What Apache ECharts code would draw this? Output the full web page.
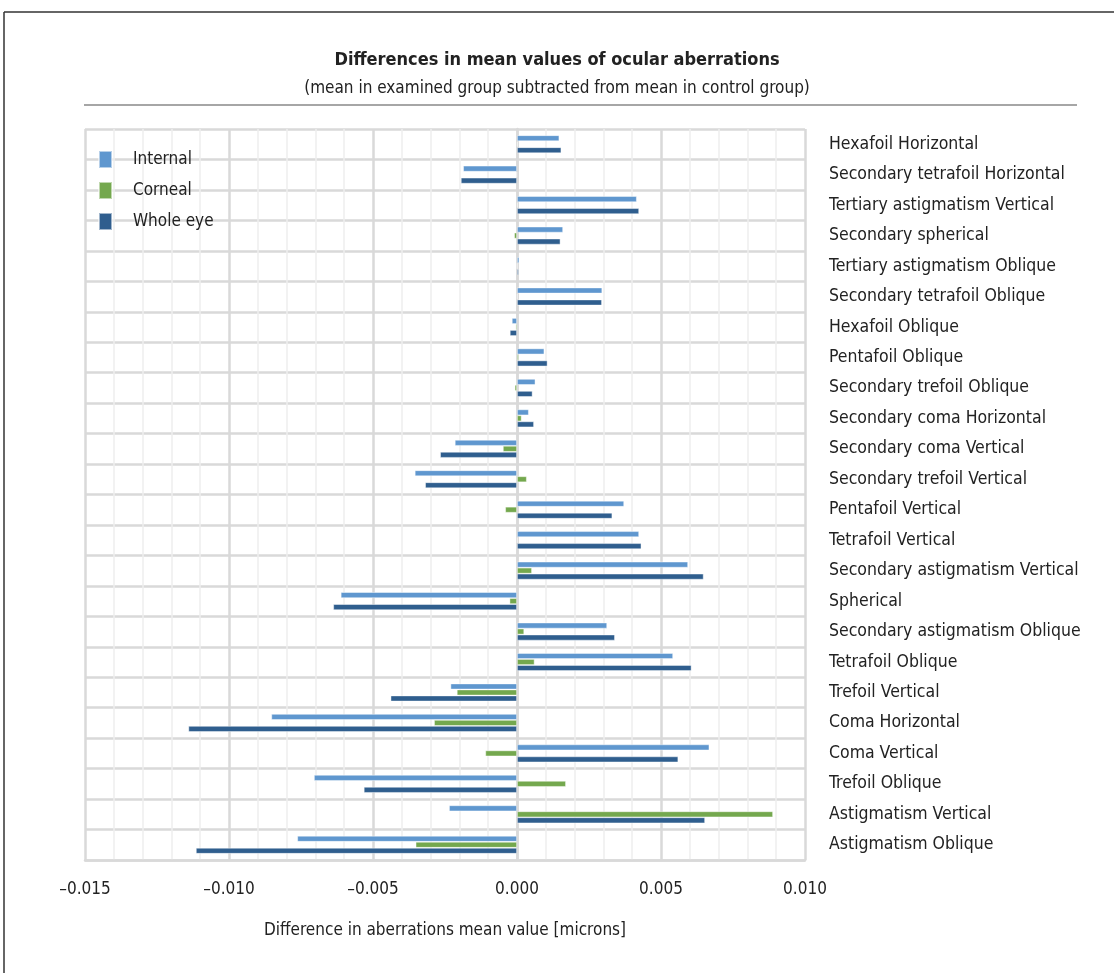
<!DOCTYPE html>
<html>
<head>
<meta charset="utf-8">
<script src="https://cdn.jsdelivr.net/npm/echarts@6/dist/echarts.min.js"></script>
<style>
html,body{margin:0;padding:0;background:#fff;}
#c{width:1114px;height:973px;}
</style>
</head>
<body>
<div id="c"></div>
<script>
const categories = [
  "Hexafoil Horizontal",
  "Secondary tetrafoil Horizontal",
  "Tertiary astigmatism Vertical",
  "Secondary spherical",
  "Tertiary astigmatism Oblique",
  "Secondary tetrafoil Oblique",
  "Hexafoil Oblique",
  "Pentafoil Oblique",
  "Secondary trefoil Oblique",
  "Secondary coma Horizontal",
  "Secondary coma Vertical",
  "Secondary trefoil Vertical",
  "Pentafoil Vertical",
  "Tetrafoil Vertical",
  "Secondary astigmatism Vertical",
  "Spherical",
  "Secondary astigmatism Oblique",
  "Tetrafoil Oblique",
  "Trefoil Vertical",
  "Coma Horizontal",
  "Coma Vertical",
  "Trefoil Oblique",
  "Astigmatism Vertical",
  "Astigmatism Oblique"
];
const internal = [0.00147,-0.00187,0.00416,0.00160,0.00008,0.00296,-0.00018,0.00095,0.00064,0.00041,-0.00216,-0.00355,0.00372,0.00424,0.00594,-0.00612,0.00313,0.00542,-0.00231,-0.00853,0.00668,-0.00705,-0.00236,-0.00763];
const corneal = [0.00003,-0.00002,0.00003,-0.00010,0.00001,0.00002,-0.00005,0.00006,-0.00008,0.00016,-0.00049,0.00034,-0.00041,0.00002,0.00052,-0.00026,0.00025,0.00061,-0.00209,-0.00288,-0.00110,0.00170,0.00889,-0.00352];
const wholeEye = [0.00154,-0.00195,0.00424,0.00151,0.00006,0.00295,-0.00025,0.00106,0.00054,0.00059,-0.00267,-0.00319,0.00331,0.00432,0.00648,-0.00638,0.00340,0.00606,-0.00439,-0.01141,0.00560,-0.00532,0.00653,-0.01115];
const xTicks = [-0.015,-0.010,-0.005,0.000,0.005,0.010];
const seriesNames = ["Internal","Corneal","Whole eye"];

const FONT = "'Liberation Sans Narrow','DejaVu Sans Condensed','Liberation Sans',sans-serif";
const colors = ["#5f97cf","#74a84e","#2f5e8e"];
const chart = echarts.init(document.getElementById('c'));
const fmt = v => (v < 0 ? "\u2013" : "") + Math.abs(v).toFixed(3);
const mk = (name, data, i) => ({
  name: name, type: 'bar', data: data,
  barWidth: 6, barGap: '0%',
  itemStyle: {color: colors[i], borderColor: 'rgba(255,255,255,0.55)', borderWidth: 0.8},
  emphasis: {disabled: true}
});
chart.setOption({
  animation: false,
  textStyle: {fontFamily: FONT},
  title: {
    text: "Differences in mean values of ocular aberrations",
    subtext: "(mean in examined group subtracted from mean in control group)",
    left: 'center', top: 46, itemGap: 11,
    textStyle: {fontFamily: FONT, fontSize: 18, fontWeight: 'bold', color: '#222'},
    subtextStyle: {fontFamily: FONT, fontSize: 17, color: '#222'}
  },
  legend: {
    orient: 'vertical', left: 98, top: 150, padding: 0, itemWidth: 13, itemHeight: 17, itemGap: 12,
    icon: 'rect',
    data: seriesNames,
    textStyle: {fontFamily: FONT, fontSize: 17, lineHeight: 17, color: '#222', padding: [0,0,0,16]}
  },
  grid: {left: 85, right: 309, top: 129, bottom: 113, containLabel: false},
  xAxis: {
    type: 'value', min: -0.015, max: 0.010, interval: 0.005,
    name: "Difference in aberrations mean value [microns]",
    nameLocation: 'middle', nameGap: 62,
    nameTextStyle: {fontFamily: FONT, fontSize: 17, color: '#222'},
    axisLine: {show: true, lineStyle: {color: '#d9d9d9', width: 2.5}},
    axisTick: {show: false},
    axisLabel: {fontFamily: FONT, fontSize: 17, color: '#222', margin: 21,
      formatter: v => { const t = xTicks.find(x => Math.abs(x - v) < 1e-9); return t === undefined ? '' : fmt(t); }},
    splitLine: {show: true, lineStyle: {color: '#d9d9d9', width: 2.5}},
    minorTick: {show: false, splitNumber: 5},
    minorSplitLine: {show: true, lineStyle: {color: '#eeeeee', width: 1.5}}
  },
  yAxis: {
    type: 'category', data: categories, inverse: true, position: 'right',
    axisLine: {show: true, lineStyle: {color: '#d9d9d9', width: 2.5}},
    axisTick: {show: false},
    axisLabel: {fontFamily: FONT, fontSize: 17.5, color: '#222', margin: 24, align: 'left'},
    splitLine: {show: true, lineStyle: {color: '#d9d9d9', width: 2.5}}
  },
  graphic: [
    {type: 'line', shape: {x1: 4, y1: 12, x2: 1114, y2: 12}, style: {stroke: '#333', lineWidth: 1.5}},
    {type: 'line', shape: {x1: 4, y1: 12, x2: 4, y2: 973}, style: {stroke: '#333', lineWidth: 1.5}},
    {type: 'line', shape: {x1: 84, y1: 105, x2: 1077, y2: 105}, style: {stroke: '#888', lineWidth: 1.5}}
  ],
  series: [mk(seriesNames[0], internal, 0), mk(seriesNames[1], corneal, 1), mk(seriesNames[2], wholeEye, 2)]
});
</script>
</body>
</html>
